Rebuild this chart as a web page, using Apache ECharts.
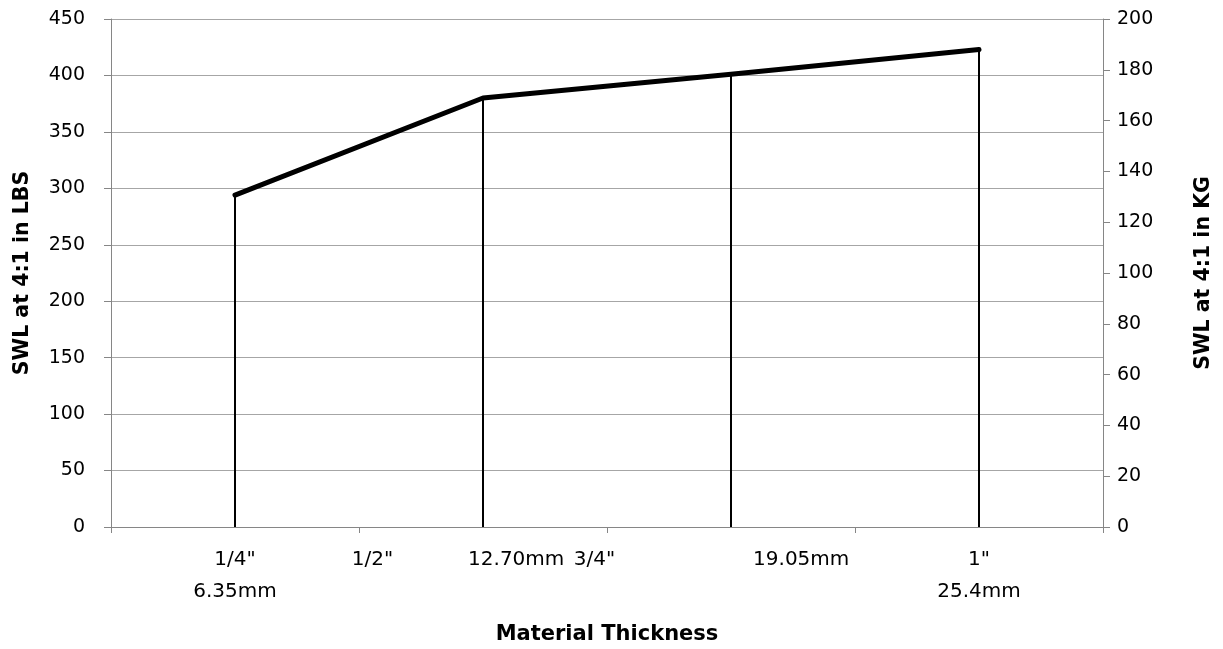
<!DOCTYPE html>
<html>
<head>
<meta charset="utf-8">
<script src="https://cdn.jsdelivr.net/npm/echarts@6/dist/echarts.min.js"></script>
<style>html,body{margin:0;padding:0;background:#fff}#c{width:1223px;height:649px}</style>
</head>
<body>
<div id="c"></div>
<script>
var inchLabels = ['1/4"', '1/2"', '3/4"', '1"'];
var mmLabels = ['6.35mm', '12.70mm', '19.05mm', '25.4mm'];
var categories = inchLabels.map(function (v, i) { return v + ' ' + mmLabels[i]; });
var swlLbs = [294, 380, 401, 423];
var lbsTicks = { min: 0, max: 450, interval: 50 };
var kgTicks = { min: 0, max: 200, interval: 20 };

var FONT = 'DejaVu Sans';
var FS = 19;
var XFS = 20;
var axisGray = '#868686';
var gridGray = '#a6a6a6';

var chart = echarts.init(document.getElementById('c'), null, { renderer: 'canvas' });
chart.setOption({
  animation: false,
  backgroundColor: '#fff',
  textStyle: { fontFamily: FONT },
  grid: { left: 111, right: 120, top: 19, bottom: 122, containLabel: false, outerBoundsMode: 'none' },
  xAxis: {
    type: 'category',
    data: categories,
    boundaryGap: true,
    name: 'Material Thickness',
    nameLocation: 'middle',
    nameGap: 97,
    nameMoveOverlap: false,
    nameTextStyle: { fontFamily: FONT, fontSize: 21, fontWeight: 'bold', color: '#000' },
    axisLine: { lineStyle: { color: axisGray, width: 1 } },
    axisTick: { show: true, length: 6, alignWithLabel: false, lineStyle: { color: axisGray } },
    splitLine: { show: false },
    axisLabel: {
      interval: 0,
      margin: 17,
      color: '#000',
      fontFamily: FONT,
      fontSize: XFS,
      lineHeight: 32,
      hideOverlap: false,
      formatter: function (val, idx) {
        var parts = val.split(' ');
        if (idx === 1) return '{a|' + parts[0] + '}{b|' + parts[1] + '}';
        if (idx === 2) return '{c|' + parts[0] + '}{d|' + parts[1] + '}';
        return parts[0] + '\n' + parts[1];
      },
      rich: {
        a: { fontFamily: FONT, fontSize: XFS, color: '#000', lineHeight: 32, padding: [0, 75, 0, 0] },
        b: { fontFamily: FONT, fontSize: XFS, color: '#000', lineHeight: 32, padding: [0, 50, 0, 0] },
        c: { fontFamily: FONT, fontSize: XFS, color: '#000', lineHeight: 32, padding: [0, 138, 0, 0] },
        d: { fontFamily: FONT, fontSize: XFS, color: '#000', lineHeight: 32, padding: [0, 39, 0, 0] }
      }
    }
  },
  yAxis: [
    {
      type: 'value',
      min: lbsTicks.min, max: lbsTicks.max, interval: lbsTicks.interval,
      name: 'SWL at 4:1 in LBS',
      nameLocation: 'middle',
      nameGap: 78,
      nameRotate: 90,
      nameMoveOverlap: false,
      nameTextStyle: { fontFamily: FONT, fontSize: 20.5, fontWeight: 'bold', color: '#000' },
      axisLine: { show: true, lineStyle: { color: axisGray, width: 1 } },
      axisTick: { show: true, length: 7, lineStyle: { color: axisGray } },
      splitLine: { show: true, lineStyle: { color: gridGray, width: 1 } },
      axisLabel: { margin: 26, color: '#000', fontFamily: FONT, fontSize: FS }
    },
    {
      type: 'value',
      position: 'right',
      min: kgTicks.min, max: kgTicks.max, interval: kgTicks.interval,
      name: 'SWL at 4:1 in KG',
      nameLocation: 'middle',
      nameGap: 90,
      nameRotate: 90,
      nameMoveOverlap: false,
      nameTextStyle: { fontFamily: FONT, fontSize: 20.5, fontWeight: 'bold', color: '#000' },
      axisLine: { show: true, lineStyle: { color: axisGray, width: 1 } },
      axisTick: { show: true, length: 7, lineStyle: { color: axisGray } },
      splitLine: { show: false },
      axisLabel: { margin: 14, color: '#000', fontFamily: FONT, fontSize: FS }
    }
  ],
  series: [
    {
      type: 'bar',
      yAxisIndex: 0,
      data: swlLbs,
      barWidth: 2,
      itemStyle: { color: '#000' },
      silent: true,
      z: 2
    },
    {
      type: 'line',
      yAxisIndex: 0,
      data: swlLbs,
      showSymbol: false,
      symbol: 'none',
      lineStyle: { color: '#000', width: 5, cap: 'round', join: 'round' },
      z: 3
    }
  ]
});
</script>
</body>
</html>
